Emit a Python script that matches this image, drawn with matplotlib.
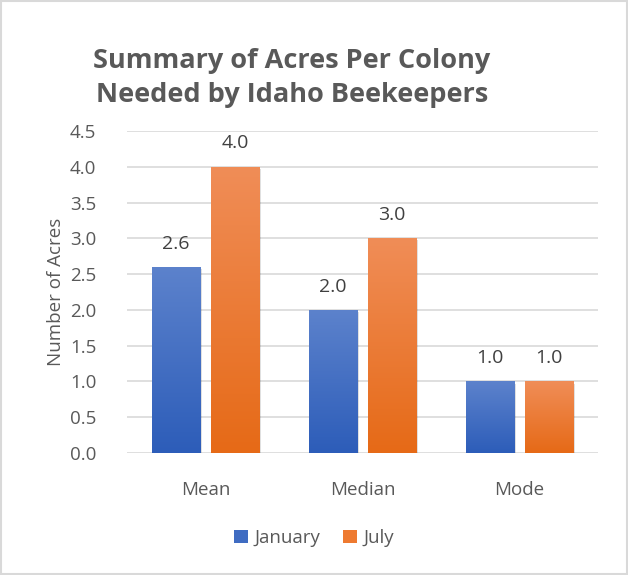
import numpy as np
import matplotlib
matplotlib.use('agg')
import matplotlib.pyplot as plt
from matplotlib.patches import Rectangle, Patch
from matplotlib.colors import LinearSegmentedColormap

categories = ["Mean", "Median", "Mode"]
january = [2.6, 2.0, 1.0]
july = [4.0, 3.0, 1.0]
yticks = [0.0, 0.5, 1.0, 1.5, 2.0, 2.5, 3.0, 3.5, 4.0, 4.5]

plt.rcParams['font.family'] = ['Open Sans', 'DejaVu Sans']
txt = '#595959'

fig = plt.figure(figsize=(6.28, 5.75), dpi=100)
ax = fig.add_axes([127/628, 1-453/575, 471/628, 322/575])

x = np.arange(len(categories))
w = 0.31
gap = 0.064
cmaps = [LinearSegmentedColormap.from_list('b', ['#2D5DB9', '#5C82CC']),
         LinearSegmentedColormap.from_list('o', ['#E66A17', '#F08D57'])]
grad = np.linspace(0, 1, 100).reshape(-1, 1)
for k, vals in enumerate([january, july]):
    xs = x + (k - 0.5) * (w + gap)
    bars = ax.bar(xs, vals, w, color='none', zorder=3)
    for b, v in zip(bars, vals):
        x0 = b.get_x()
        # soft shadow
        sh = Rectangle((x0 + 0.01, -0.03), w, v, color='#000000', alpha=0.12, zorder=2, lw=0)
        ax.add_patch(sh)
        im = ax.imshow(grad, extent=[x0, x0 + w, 0, v], origin='lower', cmap=cmaps[k],
                       aspect='auto', zorder=3)
        im.set_clip_path(b)
        ax.text(x0 + w / 2, v + 0.2, f"{v:.1f}", ha='center', va='bottom', fontsize=14, color='#404040')

ax.set_xlim(-0.5, 2.5)
ax.set_ylim(0, 4.5)
ax.set_yticks(yticks)
ax.set_yticklabels([f"{t:.1f}" for t in yticks], fontsize=13.5, color=txt)
ax.set_xticks(x)
ax.set_xticklabels(categories, fontsize=13.5, color=txt)
ax.tick_params(length=0, pad=22, axis='y')
ax.tick_params(length=0, pad=20, axis='x')
ax.grid(axis='y', color='#D9D9D9', lw=1.2, zorder=0)
for s in ax.spines.values():
    s.set_visible(False)
ax.set_ylabel("Number of Acres", fontsize=13.5, color=txt, labelpad=4)

fig.text(0.465, 1 - 78/575, "Summary of Acres Per Colony\nNeeded by Idaho Beekeepers",
         ha='center', va='center', fontsize=19.5, fontweight='bold', color=txt, linespacing=1.45)

handles = [Patch(facecolor='#3F6CC2'), Patch(facecolor='#EE7A30')]
fig.legend(handles, ["January", "July"], loc='center', bbox_to_anchor=(0.5, 1 - 538/575),
           ncol=2, frameon=False, fontsize=13.5, handlelength=0.75, handleheight=0.75,
           handletextpad=0.35, columnspacing=1.2, labelcolor=txt)

fig.patches.append(Rectangle((0.002, 0.002), 0.996, 0.996, transform=fig.transFigure,
                             fill=False, edgecolor='#D9D9D9', lw=1.5))
plt.savefig("out.png", dpi=100)
